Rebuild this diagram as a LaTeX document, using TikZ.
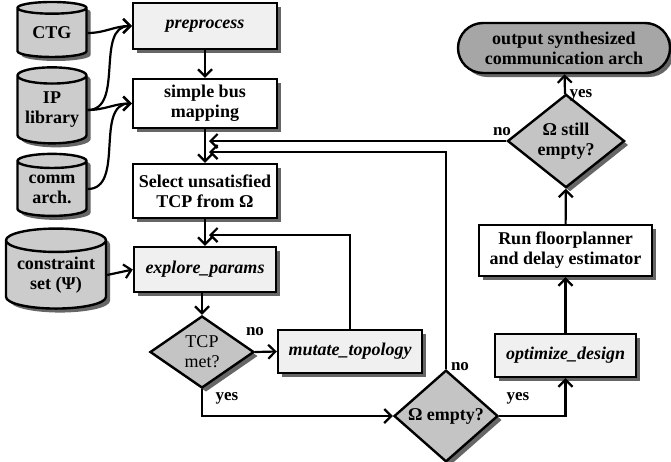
\documentclass[tikz,border=0pt]{standalone}
\usepackage{fontspec}
\setmainfont{Liberation Serif}
\usetikzlibrary{shapes.geometric,shapes.misc,shadows,arrows.meta}
\begin{document}
\begin{tikzpicture}[x=1pt,y=-1pt,
  base/.style={draw, line width=2.4pt, align=center, inner sep=0pt,
    font=\fontsize{18}{20}\selectfont\bfseries,
    drop shadow={shadow xshift=4pt, shadow yshift=-4pt, fill=black!60, opacity=1}},
  procbox/.style={base, rectangle, fill=white},
  funcbox/.style={base, rectangle, fill=black!6,
    font=\fontsize{18}{20}\selectfont\bfseries\itshape},
  store/.style={base, cylinder, shape border rotate=90, aspect=0.3, fill=black!20},
  decision/.style={base, diamond, fill=black!23},
  terminal/.style={base, rounded rectangle, fill=black!35},
  flow/.style={line width=2.2pt, -{Straight Barb[length=7pt,width=14pt]}},
  lbl/.style={font=\fontsize{17}{19}\selectfont\bfseries, inner sep=0pt}
]
\useasboundingbox (0,0) rectangle (671,461);

% data stores
\node[store, minimum width=69pt, minimum height=55pt] (ctg) at (52,33) {CTG};
\node[store, minimum width=69pt, minimum height=76pt] (ip) at (52,110) {IP\\library};
\node[store, minimum width=69pt, minimum height=62pt] (comm) at (52,189) {comm\\arch.};
\node[store, minimum width=100pt, minimum height=80pt] (cons) at (56,275) {constraint\\set (Ψ)};

% main flow
\node[funcbox, minimum width=144pt, minimum height=46pt] (pre) at (205,26) {preprocess};
\node[procbox, minimum width=144pt, minimum height=49pt] (sbm) at (205,103.5) {simple bus\\mapping};
\node[procbox, minimum width=144pt, minimum height=54pt] (sel) at (205,191) {Select unsatisfied\\TCP from Ω};
\node[funcbox, minimum width=142pt, minimum height=45pt] (exp) at (205,269.5) {explore\_params};
\node[decision, minimum width=104pt, minimum height=72pt,
  font=\fontsize{18}{20}\selectfont] (tcp) at (202,352) {TCP\\met?};
\node[funcbox, minimum width=144pt, minimum height=43pt] (mut) at (350,351.5) {mutate\_topology};
\node[decision, minimum width=104pt, minimum height=75pt] (oe) at (446,416) {Ω empty?};
\node[funcbox, minimum width=141pt, minimum height=43pt] (opt) at (565.5,355.5) {optimize\_design};
\node[procbox, minimum width=173pt, minimum height=51pt] (run) at (565.5,250.5) {Run floorplanner\\and delay estimator};
\node[decision, minimum width=117pt, minimum height=75pt] (ose) at (566,141) {Ω still\\empty?};
\node[terminal, minimum width=212pt, minimum height=50pt] (out) at (564,48) {output synthesized\\communication arch};

% junction points on the main column
\coordinate (j1) at (209,141);
\coordinate (j2) at (209,152);
\coordinate (j3) at (209,235);

% inputs
\draw[flow] (ctg.east) to[out=0,in=180] (pre.west);
\draw[flow] (ip.east) to[out=0,in=180] (pre.west);
\draw[flow] (ip.east) to[out=0,in=180] (sbm.west);
\draw[flow] (comm.east) to[out=0,in=180] (sbm.west);
\draw[flow] (cons.east) -- (exp.west);

% main column
\draw[flow] (pre) -- (sbm);
\draw[flow] (sbm) -- (sel);
\draw[flow] (sel) -- (exp);
\draw[flow] (exp.south -| tcp.north) -- (tcp.north);
\draw[flow] (tcp.east) -- (mut.west);
\draw[flow] (mut.north) |- (j3);
\draw[flow] (tcp.south) |- (oe.west);
\draw[flow] (oe.east) -| (opt.south);
\draw[flow] (opt) -- (run);
\draw[flow] (run) -- (ose);
\draw[flow] (ose) -- (out);
\draw[flow] (ose.west) -- (j1);
\draw[flow] (oe.north) |- (j2);

% branch labels
\node[lbl] (l1) at (255,332) {no};
\node[lbl] (l2) at (227,398) {yes};
\node[lbl] (l3) at (460,367) {no};
\node[lbl] (l4) at (518,398) {yes};
\node[lbl] (l5) at (502,132) {no};
\node[lbl] (l6) at (581,95) {yes};
\end{tikzpicture}
\end{document}
